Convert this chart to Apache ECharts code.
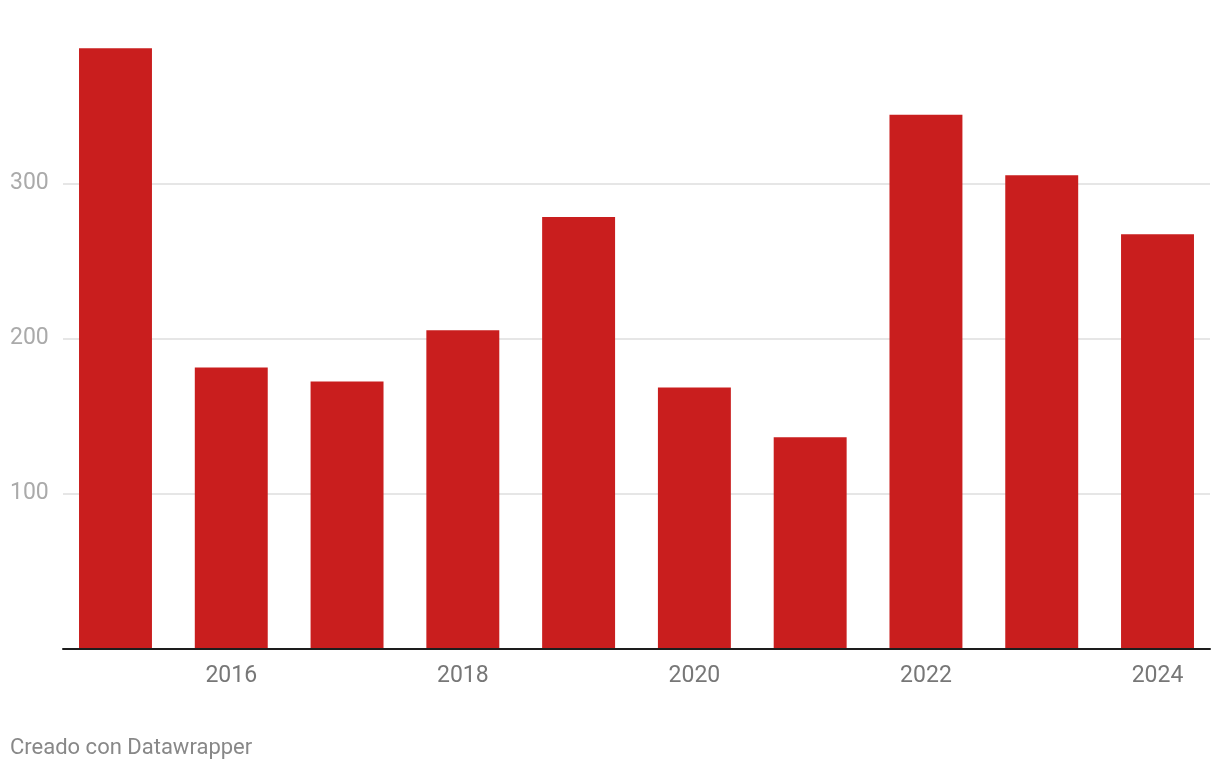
<!DOCTYPE html>
<html><head><meta charset="utf-8">
<script src="https://cdn.jsdelivr.net/npm/echarts@6/dist/echarts.min.js"></script>
<style>html,body{margin:0;padding:0;background:#fff}#c{width:1220px;height:770px}</style>
</head><body><div id="c"></div>
<script>
var years = ['2015','2016','2017','2018','2019','2020','2021','2022','2023','2024'];
var values = [387, 181, 172, 205, 278, 168, 136, 344, 305, 267];
var yTicks = [0, 100, 200, 300, 400];
var footer = 'Creado con Datawrapper';

var chart = echarts.init(document.getElementById('c'));
var FONT = 'Roboto';
chart.setOption({
  animation: false,
  backgroundColor: '#ffffff',
  textStyle: {fontFamily: FONT},
  graphic: [{type:'text', left: 10, top: 737, style:{text: footer, fill:'#888888', font: '22px Roboto'}}],
  grid: [
    {left: 57.6, right: 4.6, top: 28, bottom: 122},
    {left: 63, right: 10, top: 28.5, bottom: 121.5}
  ],
  xAxis: [
    {type:'category', gridIndex:0, data: years,
     axisLine:{show:false}, axisTick:{show:false},
     axisLabel:{interval: function(i){return i % 2 === 1;}, color:'#777777', fontSize:23, margin:17, fontFamily:FONT}},
    {type:'value', gridIndex:1, min:0, max:1, z:5,
     axisLine:{show:true, onZero:false, lineStyle:{color:'#1d1d1d', width:2}},
     axisTick:{show:false}, axisLabel:{show:false}, splitLine:{show:false}}
  ],
  yAxis: [
    {type:'value', gridIndex:0, min:0, max:400, interval:100, show:false, splitLine:{show:false}},
    {type:'value', gridIndex:1, min:0, max:400, interval:100,
     axisLine:{show:false}, axisTick:{show:false},
     axisLabel:{align:'left', margin:53, color:'#aaaaaa', fontSize:23, fontFamily:FONT,
       formatter:function(v){return (v === yTicks[0] || v === yTicks[yTicks.length-1]) ? '' : String(v);}},
     splitLine:{show:true, lineStyle:{color:['rgba(0,0,0,0)','#e6e6e6','#e6e6e6','#e6e6e6','rgba(0,0,0,0)'], width:2}}}
  ],
  series: [{
    type:'bar', xAxisIndex:0, yAxisIndex:0, data: values,
    barCategoryGap: '37%', itemStyle:{color:'#c91e1e'}
  }]
});
</script></body></html>
